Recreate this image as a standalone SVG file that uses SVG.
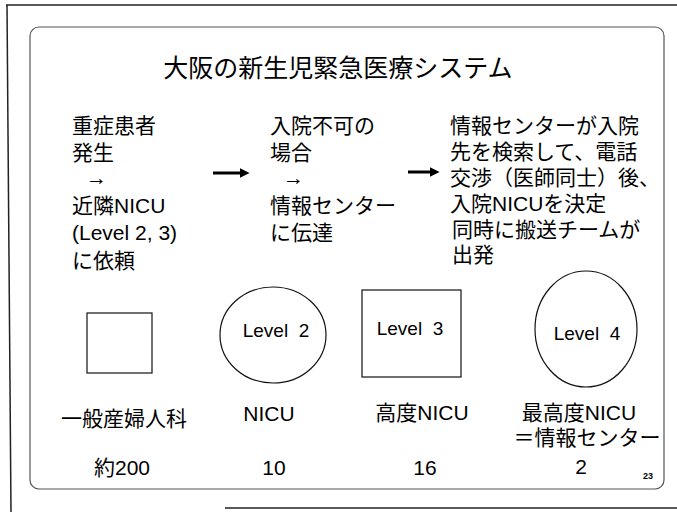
<svg xmlns="http://www.w3.org/2000/svg" width="677" height="514" viewBox="0 0 677 514">
<style>
.t{font-family:"Liberation Sans","Noto Sans CJK JP",sans-serif;fill:#000}
.b{font-size:21px}
.c{font-size:21px;text-anchor:middle}
.lv{font-size:19px;text-anchor:middle;white-space:pre}
.shape{fill:none;stroke:#111;stroke-width:1.2}
.conn{stroke:#000;stroke-width:3;fill:none}
</style>
<defs>
<marker id="ah" markerWidth="4" markerHeight="4" refX="1" refY="2" orient="auto" markerUnits="strokeWidth">
<path d="M0,0.4 L3.2,2 L0,3.6 Z" fill="#000"/>
</marker>
</defs>
<rect width="677" height="514" fill="#fff"/>
<g id="frame">
<line x1="6" y1="5" x2="677" y2="5" stroke="#222" stroke-width="1.5"/>
<line x1="7" y1="5" x2="11" y2="512" stroke="#222" stroke-width="1.5"/>
<line x1="225" y1="508" x2="677" y2="508" stroke="#222" stroke-width="1.5"/>
<rect x="30" y="27" width="634" height="462" rx="9" fill="none" stroke="#555" stroke-width="1.2"/>
</g>
<text id="title" class="t" x="338" y="77" font-size="25" text-anchor="middle">大阪の新生児緊急医療システム</text>
<g id="step1">
<text class="t b" x="72" y="133">重症患者</text>
<text class="t b" x="72" y="160">発生</text>
<text class="t b" x="86" y="185">→</text>
<text class="t b" x="72" y="213">近隣NICU</text>
<text class="t b" x="72" y="240">(Level 2, 3)</text>
<text class="t b" x="72" y="268">に依頼</text>
</g>
<g id="step2">
<text class="t b" x="270" y="133">入院不可の</text>
<text class="t b" x="270" y="160">場合</text>
<text class="t b" x="283" y="185">→</text>
<text class="t b" x="270" y="213">情報センター</text>
<text class="t b" x="270" y="240">に伝達</text>
</g>
<g id="step3">
<text class="t b" x="450" y="133">情報センターが入院</text>
<text class="t b" x="450" y="159">先を検索して、電話</text>
<text class="t b" x="450" y="185">交渉（医師同士）後、</text>
<text class="t b" x="450" y="211">入院NICUを決定</text>
<text class="t b" x="452" y="237">同時に搬送チームが</text>
<text class="t b" x="452" y="262">出発</text>
</g>
<g id="connectors">
<line class="conn" x1="213" y1="173" x2="243" y2="173" marker-end="url(#ah)"/>
<line class="conn" x1="408" y1="172" x2="433" y2="172" marker-end="url(#ah)"/>
</g>
<g id="general">
<rect class="shape" x="87" y="313" width="65" height="60"/>
<text class="t c" x="124" y="426">一般産婦人科</text>
<text class="t c" x="122" y="475">約200</text>
</g>
<g id="level2">
<ellipse class="shape" cx="273" cy="335" rx="53" ry="48"/>
<text class="t lv" x="276" y="337">Level  2</text>
<text class="t c" x="269" y="421">NICU</text>
<text class="t c" x="274" y="475">10</text>
</g>
<g id="level3">
<rect class="shape" x="362" y="290" width="99" height="87"/>
<text class="t lv" x="410" y="335">Level  3</text>
<text class="t c" x="422" y="420">高度NICU</text>
<text class="t c" x="425" y="475">16</text>
</g>
<g id="level4">
<ellipse class="shape" cx="586" cy="329" rx="51" ry="58"/>
<text class="t lv" x="587" y="340">Level  4</text>
<text class="t c" x="579" y="420">最高度NICU</text>
<text class="t c" x="587" y="445">＝情報センター</text>
<text class="t c" x="581" y="474">2</text>
</g>
<text id="page" class="t" x="648" y="479" font-size="9" text-anchor="middle" font-weight="bold">23</text>
</svg>
